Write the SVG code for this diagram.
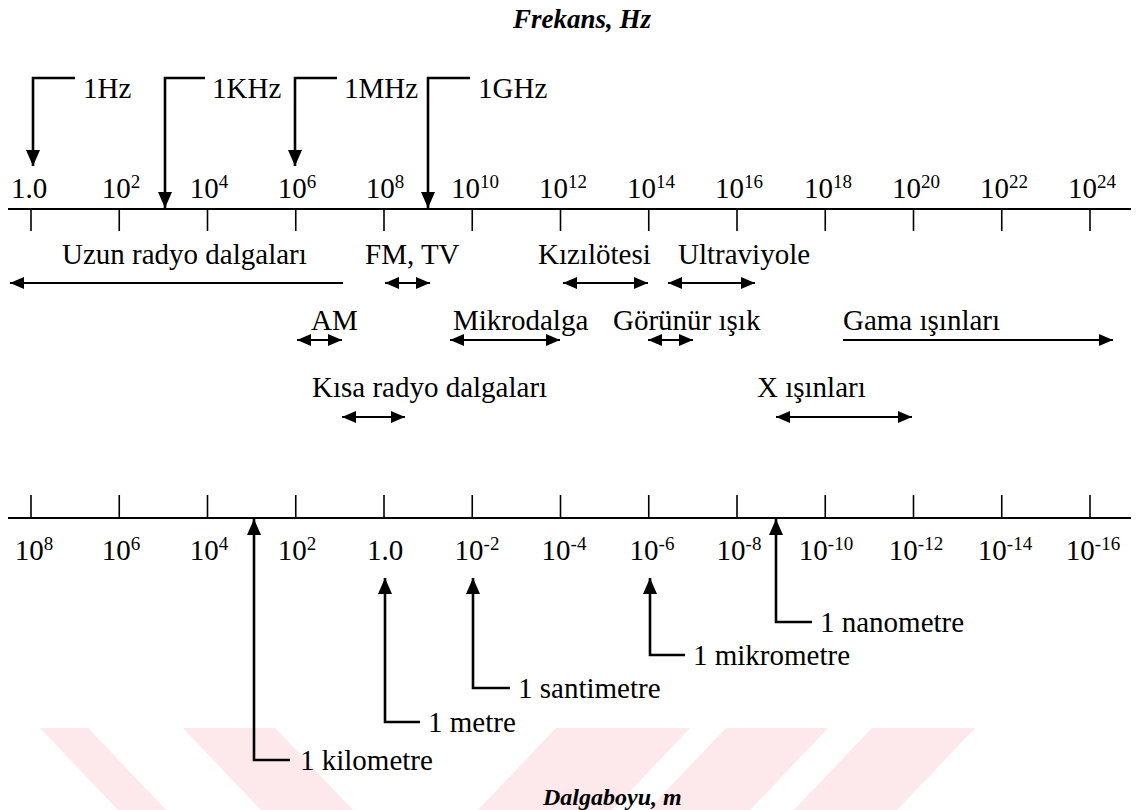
<svg xmlns="http://www.w3.org/2000/svg" width="1140" height="810" viewBox="0 0 1140 810">
  <style>
    text { font-family: "Liberation Serif", "Times New Roman", serif; fill: #000; }
    .lbl { font-size: 29px; }
    .num { font-size: 29px; text-anchor: middle; }
    .sup { font-size: 19px; }
    .title { font-size: 27px; font-style: italic; font-weight: bold; }
    .subtitle { font-size: 24px; font-style: italic; font-weight: bold; }
    .axis { stroke: #000; stroke-width: 2; fill: none; }
    .tick { stroke: #000; stroke-width: 1.6; }
    .band { stroke: #000; stroke-width: 2.2; fill: none; marker-start: url(#head); marker-end: url(#head); }
    .band-end { stroke: #000; stroke-width: 2.2; fill: none; marker-end: url(#head); }
    .ptr { stroke: #000; stroke-width: 2.6; fill: none; stroke-linejoin: miter; marker-end: url(#ptrhead); }
    .wm { fill: #fde8ec; }
  </style>
  <defs>
    <marker id="head" markerUnits="userSpaceOnUse" markerWidth="14" markerHeight="12" refX="14" refY="6" orient="auto-start-reverse">
      <path d="M0,0 L14,6 L0,12 Z" fill="#000"/>
    </marker>
    <marker id="ptrhead" markerUnits="userSpaceOnUse" markerWidth="16" markerHeight="14" refX="16" refY="7" orient="auto">
      <path d="M0,0 L16,7 L0,14 Z" fill="#000"/>
    </marker>
  </defs>

  <rect width="1140" height="810" fill="#fff"/>

  <!-- background stripe pattern along the bottom edge -->
  <g id="watermark">
    <polygon class="wm" points="40,728 88,728 166,810 118,810"/>
    <polygon class="wm" points="183,728 275,728 353,810 261,810"/>
    <polygon class="wm" points="556,728 690,728 612,810 478,810"/>
    <polygon class="wm" points="726,728 828,728 750,810 648,810"/>
    <polygon class="wm" points="872,728 975,728 897,810 794,810"/>
  </g>

  <!-- frequency scale (top) -->
  <g id="frequency-axis">
    <text class="title" x="513" y="28">Frekans, Hz</text>
    <line class="axis" x1="8" y1="209" x2="1131" y2="209"/>
    <g class="tick">
      <line x1="31" y1="209" x2="31" y2="231"/>
      <line x1="119.25" y1="209" x2="119.25" y2="231"/>
      <line x1="207.5" y1="209" x2="207.5" y2="231"/>
      <line x1="295.75" y1="209" x2="295.75" y2="231"/>
      <line x1="384" y1="209" x2="384" y2="231"/>
      <line x1="472.25" y1="209" x2="472.25" y2="231"/>
      <line x1="560.5" y1="209" x2="560.5" y2="231"/>
      <line x1="648.75" y1="209" x2="648.75" y2="231"/>
      <line x1="737" y1="209" x2="737" y2="231"/>
      <line x1="825.25" y1="209" x2="825.25" y2="231"/>
      <line x1="913.5" y1="209" x2="913.5" y2="231"/>
      <line x1="1001.75" y1="209" x2="1001.75" y2="231"/>
      <line x1="1090" y1="209" x2="1090" y2="231"/>
    </g>
    <text class="num" x="29" y="198">1.0</text>
    <text class="num" x="121" y="198">10<tspan class="sup" dy="-10">2</tspan></text>
    <text class="num" x="209" y="198">10<tspan class="sup" dy="-10">4</tspan></text>
    <text class="num" x="297" y="198">10<tspan class="sup" dy="-10">6</tspan></text>
    <text class="num" x="385" y="198">10<tspan class="sup" dy="-10">8</tspan></text>
    <text class="num" x="475" y="198">10<tspan class="sup" dy="-10">10</tspan></text>
    <text class="num" x="563" y="198">10<tspan class="sup" dy="-10">12</tspan></text>
    <text class="num" x="651" y="198">10<tspan class="sup" dy="-10">14</tspan></text>
    <text class="num" x="739" y="198">10<tspan class="sup" dy="-10">16</tspan></text>
    <text class="num" x="828" y="198">10<tspan class="sup" dy="-10">18</tspan></text>
    <text class="num" x="916" y="198">10<tspan class="sup" dy="-10">20</tspan></text>
    <text class="num" x="1004" y="198">10<tspan class="sup" dy="-10">22</tspan></text>
    <text class="num" x="1092" y="198">10<tspan class="sup" dy="-10">24</tspan></text>
  </g>

  <!-- frequency unit labels -->
  <g id="unit-1hz"><text class="lbl" x="83" y="98">1Hz</text></g>
  <g id="unit-1khz"><text class="lbl" x="212" y="98">1KHz</text></g>
  <g id="unit-1mhz"><text class="lbl" x="344" y="98">1MHz</text></g>
  <g id="unit-1ghz"><text class="lbl" x="478" y="98">1GHz</text></g>

  <!-- band labels -->
  <g id="band-uzun"><text class="lbl" x="62" y="264">Uzun radyo dalgaları</text></g>
  <g id="band-fmtv"><text class="lbl" x="365" y="264">FM, TV</text></g>
  <g id="band-kizilotesi"><text class="lbl" x="538" y="264">Kızılötesi</text></g>
  <g id="band-ultraviyole"><text class="lbl" x="678" y="264">Ultraviyole</text></g>
  <g id="band-am"><text class="lbl" x="311" y="330">AM</text></g>
  <g id="band-mikrodalga"><text class="lbl" x="453" y="330">Mikrodalga</text></g>
  <g id="band-gorunur"><text class="lbl" x="613" y="330">Görünür ışık</text></g>
  <g id="band-gama"><text class="lbl" x="843" y="330">Gama ışınları</text></g>
  <g id="band-kisa"><text class="lbl" x="312" y="397">Kısa radyo dalgaları</text></g>
  <g id="band-x"><text class="lbl" x="757" y="397">X ışınları</text></g>

  <!-- wavelength scale (bottom) -->
  <g id="wavelength-axis">
    <line class="axis" x1="8" y1="518" x2="1131" y2="518"/>
    <g class="tick">
      <line x1="31" y1="495" x2="31" y2="518"/>
      <line x1="119.25" y1="495" x2="119.25" y2="518"/>
      <line x1="207.5" y1="495" x2="207.5" y2="518"/>
      <line x1="295.75" y1="495" x2="295.75" y2="518"/>
      <line x1="384" y1="495" x2="384" y2="518"/>
      <line x1="472.25" y1="495" x2="472.25" y2="518"/>
      <line x1="560.5" y1="495" x2="560.5" y2="518"/>
      <line x1="648.75" y1="495" x2="648.75" y2="518"/>
      <line x1="737" y1="495" x2="737" y2="518"/>
      <line x1="825.25" y1="495" x2="825.25" y2="518"/>
      <line x1="913.5" y1="495" x2="913.5" y2="518"/>
      <line x1="1001.75" y1="495" x2="1001.75" y2="518"/>
      <line x1="1090" y1="495" x2="1090" y2="518"/>
    </g>
    <text class="num" x="34" y="560">10<tspan class="sup" dy="-10">8</tspan></text>
    <text class="num" x="121" y="560">10<tspan class="sup" dy="-10">6</tspan></text>
    <text class="num" x="209" y="560">10<tspan class="sup" dy="-10">4</tspan></text>
    <text class="num" x="297" y="560">10<tspan class="sup" dy="-10">2</tspan></text>
    <text class="num" x="385" y="560">1.0</text>
    <text class="num" x="477" y="560">10<tspan class="sup" dy="-10">-2</tspan></text>
    <text class="num" x="564" y="560">10<tspan class="sup" dy="-10">-4</tspan></text>
    <text class="num" x="652" y="560">10<tspan class="sup" dy="-10">-6</tspan></text>
    <text class="num" x="739" y="560">10<tspan class="sup" dy="-10">-8</tspan></text>
    <text class="num" x="826" y="560">10<tspan class="sup" dy="-10">-10</tspan></text>
    <text class="num" x="916" y="560">10<tspan class="sup" dy="-10">-12</tspan></text>
    <text class="num" x="1005" y="560">10<tspan class="sup" dy="-10">-14</tspan></text>
    <text class="num" x="1093" y="560">10<tspan class="sup" dy="-10">-16</tspan></text>
    <text class="subtitle" x="543" y="805">Dalgaboyu, m</text>
  </g>

  <!-- wavelength unit labels -->
  <g id="unit-1nm"><text class="lbl" x="820" y="632">1 nanometre</text></g>
  <g id="unit-1um"><text class="lbl" x="693" y="665">1 mikrometre</text></g>
  <g id="unit-1cm"><text class="lbl" x="518" y="698">1 santimetre</text></g>
  <g id="unit-1m"><text class="lbl" x="428" y="732">1 metre</text></g>
  <g id="unit-1km"><text class="lbl" x="300" y="770">1 kilometre</text></g>

  <!-- pointers and band ranges -->
  <g id="connectors">
    <path class="ptr" d="M75,78 H33 V166"/>
    <path class="ptr" d="M205,78 H165 V208"/>
    <path class="ptr" d="M337,78 H295 V166"/>
    <path class="ptr" d="M470,78 H428 V208"/>

    <path class="band-end" d="M343,283 H10"/>
    <path class="band" d="M385,283 H430"/>
    <path class="band" d="M563,283 H648"/>
    <path class="band" d="M668,283 H755"/>
    <path class="band" d="M297,340 H342"/>
    <path class="band" d="M450,340 H560"/>
    <path class="band" d="M648,340 H693"/>
    <path class="band-end" d="M843,340 H1113"/>
    <path class="band" d="M342,417 H405"/>
    <path class="band" d="M776,417 H912"/>

    <path class="ptr" d="M290,760 H254 V519"/>
    <path class="ptr" d="M420,722 H385 V578"/>
    <path class="ptr" d="M510,688 H473 V578"/>
    <path class="ptr" d="M685,655 H650 V578"/>
    <path class="ptr" d="M812,622 H776 V519"/>
  </g>
</svg>
